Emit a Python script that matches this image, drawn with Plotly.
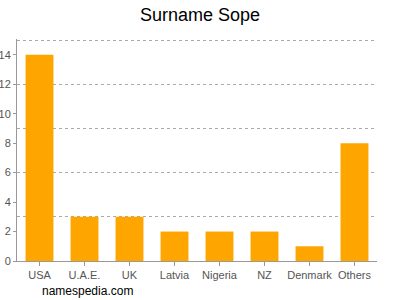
import plotly.graph_objects as go

categories = ["USA", "U.A.E.", "UK", "Latvia", "Nigeria", "NZ", "Denmark", "Others"]
values = [14, 3, 3, 2, 2, 2, 1, 8]
y_ticks = [0, 2, 4, 6, 8, 10, 12, 14]
grid_vals = [3, 6, 9, 12, 15]

fig = go.Figure()
fig.add_trace(go.Bar(x=categories, y=values, marker_color="#FFA500",
                     marker_line_width=0, yaxis="y"))
fig.add_trace(go.Scatter(x=categories, y=values, mode="markers",
                         marker_opacity=0, yaxis="y2", hoverinfo="skip",
                         showlegend=False))

fig.update_layout(
    width=400, height=300,
    margin=dict(l=17, r=23, t=39, b=39, autoexpand=False),
    paper_bgcolor="white", plot_bgcolor="white",
    showlegend=False,
    bargap=0.38,
    title=dict(text="Surname Sope", x=0.5, xanchor="center", y=0.95, yanchor="middle",
               font=dict(family="Arial, Liberation Sans", size=18, color="black")),
    font=dict(family="Arial, Liberation Sans", size=11, color="#555"),
    xaxis=dict(showline=True, linecolor="#999", linewidth=1, ticks="outside",
               ticklen=4, tickcolor="#999", showgrid=False, automargin=False,
               tickfont=dict(size=11, color="#555")),
    yaxis=dict(range=[0, 15.07], tickvals=y_ticks, showline=True, linecolor="#999",
               linewidth=1, ticks="outside", ticklen=3, tickcolor="#999",
               showgrid=False, zeroline=False, automargin=False,
               tickfont=dict(size=11, color="#555")),
    yaxis2=dict(range=[0, 15.07], tickvals=grid_vals, overlaying="y", side="left",
                showticklabels=False, ticks="", showgrid=True, gridcolor="#aaa",
                griddash="3px,3px", gridwidth=1, zeroline=False, showline=False,
                automargin=False),
)
fig.add_annotation(text="namespedia.com", xref="paper", yref="paper",
                   x=0.064, y=-0.136, xanchor="left", yanchor="middle", showarrow=False,
                   font=dict(family="Arial, Liberation Sans", size=12, color="black"))

fig.write_html("out.html")
